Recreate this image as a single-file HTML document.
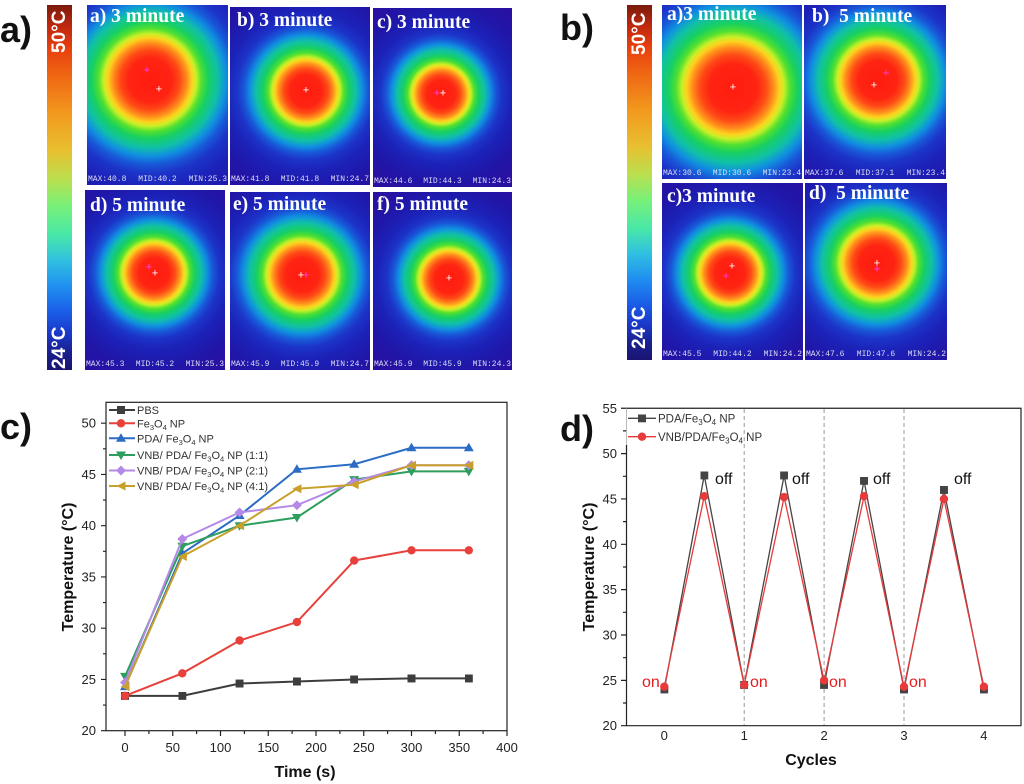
<!DOCTYPE html>
<html><head><meta charset="utf-8">
<style>
html,body{margin:0;padding:0;background:#fff;}
body{width:1024px;height:784px;position:relative;overflow:hidden;font-family:"Liberation Sans",sans-serif;}
.lbl{position:absolute;font-weight:bold;font-size:36px;color:#111;line-height:36px;}
.cb{position:absolute;background:linear-gradient(to bottom,#7a1a0c 0%,#c0280e 6%,#e8400e 12%,#f06a14 20%,#f29a1e 30%,#e8c030 40%,#b8e050 48%,#78f078 55%,#48e8a8 63%,#30c0e0 70%,#2090f0 77%,#1a5ee8 84%,#1a38c8 90%,#1a2090 95%,#1a1470 100%);}
.cbt{position:absolute;left:50%;color:#fff;font-weight:bold;font-size:19px;white-space:nowrap;transform-origin:0 0;}
.th{position:absolute;overflow:hidden;
background:radial-gradient(circle at var(--x) var(--y),#ff1c10 0,#ff2412 calc(16px*var(--s)),#ff4a16 calc(22px*var(--s)),#ff8c1c calc(27px*var(--s)),#ffd21e calc(31px*var(--s)),#c8f028 calc(34px*var(--s)),#50e030 calc(38px*var(--s)),#18d060 calc(43px*var(--s)),#10c0a8 calc(50px*var(--s)),#1090e0 calc(56px*var(--s)),#1858d8 calc(62px*var(--s)),#1c34c8 calc(69px*var(--s)),#1c22b8 calc(80px*var(--s)),#2016a8 calc(100px*var(--s)),#2a10a0 calc(125px*var(--s)),#30109a calc(160px*var(--s)));}
.tt{position:absolute;color:#fff;font-family:"Liberation Serif",serif;font-weight:bold;font-size:19.5px;line-height:19px;white-space:pre;}
.bt{position:absolute;left:1px;right:1px;bottom:1px;display:flex;justify-content:space-between;font-family:"Liberation Mono",monospace;font-size:8px;line-height:8px;color:#dcdcf4;}
.ch{position:absolute;font-size:11px;line-height:11px;color:#fff;transform:translate(-50%,-50%);}
.chm{color:#ff40ff;}
</style></head><body>

<div class="lbl" style="left:0;top:12px;">a)</div>
<div class="lbl" style="left:560px;top:10px;">b)</div>
<div class="lbl" style="left:0;top:409px;">c)</div>
<div class="lbl" style="left:560px;top:411px;">d)</div>

<!-- colorbars -->
<div class="cb" style="left:47px;top:5px;width:25px;height:365px;">
  <div class="cbt" style="top:48px;transform:rotate(-90deg) translate(0,-11px);">50°C</div>
  <div class="cbt" style="top:364px;transform:rotate(-90deg) translate(0,-11px);">24°C</div>
</div>
<div class="cb" style="left:627px;top:5px;width:25px;height:355px;">
  <div class="cbt" style="top:50px;transform:rotate(-90deg) translate(0,-11px);">50°C</div>
  <div class="cbt" style="top:344px;transform:rotate(-90deg) translate(0,-11px);">24°C</div>
</div>

<!-- panel a images -->
<div class="th" style="left:87px;top:5px;width:141px;height:180px;--x:63px;--y:75px;--s:1.36;">
  <div class="tt" style="left:3px;top:2px;">a) 3 minute</div>
  <div class="ch chm" style="left:60px;top:66px;">+</div><div class="ch" style="left:72px;top:85px;">+</div>
  <div class="bt"><span>MAX:40.8</span><span>MID:40.2</span><span>MIN:25.3</span></div>
</div>
<div class="th" style="left:230px;top:7px;width:140px;height:178px;--x:76px;--y:84px;--s:1;">
  <div class="tt" style="left:7px;top:4px;">b) 3 minute</div>
  <div class="ch" style="left:76px;top:84px;">+</div>
  <div class="bt"><span>MAX:41.8</span><span>MID:41.8</span><span>MIN:24.7</span></div>
</div>
<div class="th" style="left:373px;top:8px;width:139px;height:179px;--x:68px;--y:86px;--s:0.88;">
  <div class="tt" style="left:4px;top:5px;">c) 3 minute</div>
  <div class="ch chm" style="left:64px;top:86px;">+</div><div class="ch" style="left:70px;top:86px;">+</div>
  <div class="bt"><span>MAX:44.6</span><span>MID:44.3</span><span>MIN:24.3</span></div>
</div>
<div class="th" style="left:85px;top:190px;width:140px;height:180px;--x:69px;--y:83px;--s:0.95;">
  <div class="tt" style="left:5px;top:6px;">d) 5 minute</div>
  <div class="ch chm" style="left:64px;top:78px;">+</div><div class="ch" style="left:70px;top:84px;">+</div>
  <div class="bt"><span>MAX:45.3</span><span>MID:45.2</span><span>MIN:25.3</span></div>
</div>
<div class="th" style="left:230px;top:192px;width:140px;height:178px;--x:72px;--y:83px;--s:1.05;">
  <div class="tt" style="left:3px;top:3px;">e) 5 minute</div>
  <div class="ch" style="left:71px;top:84px;">+</div><div class="ch chm" style="left:76px;top:84px;">+</div>
  <div class="bt"><span>MAX:45.9</span><span>MID:45.9</span><span>MIN:24.7</span></div>
</div>
<div class="th" style="left:373px;top:192px;width:139px;height:178px;--x:76px;--y:87px;--s:0.9;">
  <div class="tt" style="left:4px;top:3px;">f) 5 minute</div>
  <div class="ch" style="left:76px;top:87px;">+</div>
  <div class="bt"><span>MAX:45.9</span><span>MID:45.9</span><span>MIN:24.3</span></div>
</div>

<!-- panel b images -->
<div class="th" style="left:662px;top:5px;width:140px;height:174px;--x:71px;--y:83px;--s:1.5;">
  <div class="tt" style="left:5px;top:0px;">a)3 minute</div>
  <div class="ch" style="left:71px;top:83px;">+</div>
  <div class="bt"><span>MAX:30.6</span><span>MID:30.6</span><span>MIN:23.4</span></div>
</div>
<div class="th" style="left:804px;top:5px;width:142px;height:174px;--x:74px;--y:75px;--s:1.2;">
  <div class="tt" style="left:8px;top:2px;">b)  5 minute</div>
  <div class="ch chm" style="left:82px;top:69px;">+</div><div class="ch" style="left:70px;top:81px;">+</div>
  <div class="bt"><span>MAX:37.6</span><span>MID:37.1</span><span>MIN:23.4</span></div>
</div>
<div class="th" style="left:662px;top:183px;width:141px;height:177px;--x:68px;--y:90px;--s:0.95;">
  <div class="tt" style="left:5px;top:4px;">c)3 minute</div>
  <div class="ch" style="left:70px;top:84px;">+</div><div class="ch chm" style="left:64px;top:94px;">+</div>
  <div class="bt"><span>MAX:45.5</span><span>MID:44.2</span><span>MIN:24.2</span></div>
</div>
<div class="th" style="left:805px;top:183px;width:142px;height:177px;--x:72px;--y:80px;--s:1.1;">
  <div class="tt" style="left:4px;top:1px;">d)  5 minute</div>
  <div class="ch" style="left:72px;top:81px;">+</div><div class="ch chm" style="left:72px;top:87px;">+</div>
  <div class="bt"><span>MAX:47.6</span><span>MID:47.6</span><span>MIN:24.2</span></div>
</div>

<svg width="1024" height="784" style="position:absolute;left:0;top:0;" xmlns="http://www.w3.org/2000/svg" font-family="Liberation Sans, sans-serif">
<defs>
 <marker id="mSq" markerWidth="8" markerHeight="8" refX="4" refY="4" markerUnits="userSpaceOnUse"><rect width="8" height="8" fill="#3d3d3d"/></marker>
 <marker id="mCi" markerWidth="9" markerHeight="9" refX="4.5" refY="4.5" markerUnits="userSpaceOnUse"><circle cx="4.5" cy="4.5" r="4.2" fill="#e8403a"/></marker>
 <marker id="mUp" markerWidth="10" markerHeight="10" refX="5" refY="5.5" markerUnits="userSpaceOnUse"><path d="M0,9 L5,0.5 L10,9 Z" fill="#2b6cc4"/></marker>
 <marker id="mDn" markerWidth="10" markerHeight="10" refX="5" refY="4.5" markerUnits="userSpaceOnUse"><path d="M0,1 L10,1 L5,9.5 Z" fill="#2e9e5e"/></marker>
 <marker id="mDi" markerWidth="10" markerHeight="10" refX="5" refY="5" markerUnits="userSpaceOnUse"><path d="M5,0 L10,5 L5,10 L0,5 Z" fill="#b58ae6"/></marker>
 <marker id="mLe" markerWidth="10" markerHeight="10" refX="5" refY="5" markerUnits="userSpaceOnUse"><path d="M0.5,5 L9.5,0.5 L9.5,9.5 Z" fill="#c8a02a"/></marker>
 <marker id="dSq" markerWidth="8" markerHeight="8" refX="4" refY="4" markerUnits="userSpaceOnUse"><rect width="8" height="8" fill="#444"/></marker>
 <marker id="dCi" markerWidth="9" markerHeight="9" refX="4.5" refY="4.5" markerUnits="userSpaceOnUse"><circle cx="4.5" cy="4.5" r="4.2" fill="#e83a3a"/></marker>
</defs>

<!-- ===== Chart c ===== -->
<g stroke="#222" stroke-width="1.2" fill="none">
 <rect x="106" y="402.3" width="401" height="328.4"/>
 <path d="M101,730.7H106M101,679.45H106M101,628.2H106M101,576.95H106M101,525.7H106M101,474.45H106M101,423.2H106
 M103,705.08H106M103,653.83H106M103,602.58H106M103,551.33H106M103,500.08H106M103,448.83H106
 M125,730.7V736M172.75,730.7V736M220.5,730.7V736M268.25,730.7V736M316,730.7V736M363.75,730.7V736M411.5,730.7V736M459.25,730.7V736M507,730.7V736
 M148.9,730.7V734M196.6,730.7V734M244.4,730.7V734M292.1,730.7V734M339.9,730.7V734M387.6,730.7V734M435.4,730.7V734M483.1,730.7V734"/>
</g>
<g font-size="13" fill="#222" text-anchor="end">
 <text x="96" y="735.2">20</text><text x="96" y="684">25</text><text x="96" y="632.7">30</text><text x="96" y="581.5">35</text><text x="96" y="530.2">40</text><text x="96" y="479">45</text><text x="96" y="427.7">50</text>
</g>
<g font-size="13" fill="#222" text-anchor="middle">
 <text x="125" y="752">0</text><text x="172.75" y="752">50</text><text x="220.5" y="752">100</text><text x="268.25" y="752">150</text><text x="316" y="752">200</text><text x="363.75" y="752">250</text><text x="411.5" y="752">300</text><text x="459.25" y="752">350</text><text x="507" y="752">400</text>
</g>
<text x="305" y="777" font-size="16" font-weight="bold" text-anchor="middle" fill="#111">Time (s)</text>
<text transform="translate(73,567) rotate(-90)" font-size="16" font-weight="bold" text-anchor="middle" fill="#111">Temperature (°C)</text>

<g fill="none" stroke-width="2">
 <polyline stroke="#3d3d3d" marker-start="url(#mSq)" marker-mid="url(#mSq)" marker-end="url(#mSq)" points="125,695.85 182.3,695.85 239.6,683.55 296.9,681.5 354.2,679.45 411.5,678.43 468.8,678.43"/>
 <polyline stroke="#e8403a" marker-start="url(#mCi)" marker-mid="url(#mCi)" marker-end="url(#mCi)" points="125,695.85 182.3,673.3 239.6,640.5 296.9,622.05 354.2,560.55 411.5,550.3 468.8,550.3"/>
 <polyline stroke="#2b6cc4" marker-start="url(#mUp)" marker-mid="url(#mUp)" marker-end="url(#mUp)" points="125,686.6 182.3,553.4 239.6,515.45 296.9,469.3 354.2,464.2 411.5,447.8 468.8,447.8"/>
 <polyline stroke="#2e9e5e" marker-start="url(#mDn)" marker-mid="url(#mDn)" marker-end="url(#mDn)" points="125,676.4 182.3,546.2 239.6,525.7 296.9,517.5 354.2,479.6 411.5,471.4 468.8,471.4"/>
 <polyline stroke="#b58ae6" marker-start="url(#mDi)" marker-mid="url(#mDi)" marker-end="url(#mDi)" points="125,682.5 182.3,539 239.6,512.4 296.9,505.2 354.2,481.6 411.5,465.2 468.8,465.2"/>
 <polyline stroke="#c8a02a" marker-start="url(#mLe)" marker-mid="url(#mLe)" marker-end="url(#mLe)" points="125,686.6 182.3,556.45 239.6,525.7 296.9,488.8 354.2,484.7 411.5,465.2 468.8,465.2"/>
</g>
<!-- legend c -->
<g fill="none" stroke-width="2">
 <polyline stroke="#3d3d3d" marker-mid="url(#mSq)" points="109,410 121,410 135,410"/>
 <polyline stroke="#e8403a" marker-mid="url(#mCi)" points="109,423.3 121,423.3 135,423.3"/>
 <polyline stroke="#2b6cc4" marker-mid="url(#mUp)" points="109,438.3 121,438.3 135,438.3"/>
 <polyline stroke="#2e9e5e" marker-mid="url(#mDn)" points="109,455 121,455 135,455"/>
 <polyline stroke="#b58ae6" marker-mid="url(#mDi)" points="109,470.5 121,470.5 135,470.5"/>
 <polyline stroke="#c8a02a" marker-mid="url(#mLe)" points="109,486 121,486 135,486"/>
</g>
<g font-size="11" fill="#333">
 <text x="137" y="414">PBS</text>
 <text x="137" y="427.3">Fe<tspan font-size="7.5" dy="2.5">3</tspan><tspan dy="-2.5">O</tspan><tspan font-size="7.5" dy="2.5">4</tspan><tspan dy="-2.5"> NP</tspan></text>
 <text x="137" y="442.3">PDA/ Fe<tspan font-size="7.5" dy="2.5">3</tspan><tspan dy="-2.5">O</tspan><tspan font-size="7.5" dy="2.5">4</tspan><tspan dy="-2.5"> NP</tspan></text>
 <text x="137" y="459">VNB/ PDA/ Fe<tspan font-size="7.5" dy="2.5">3</tspan><tspan dy="-2.5">O</tspan><tspan font-size="7.5" dy="2.5">4</tspan><tspan dy="-2.5"> NP (1:1)</tspan></text>
 <text x="137" y="474.5">VNB/ PDA/ Fe<tspan font-size="7.5" dy="2.5">3</tspan><tspan dy="-2.5">O</tspan><tspan font-size="7.5" dy="2.5">4</tspan><tspan dy="-2.5"> NP (2:1)</tspan></text>
 <text x="137" y="490">VNB/ PDA/ Fe<tspan font-size="7.5" dy="2.5">3</tspan><tspan dy="-2.5">O</tspan><tspan font-size="7.5" dy="2.5">4</tspan><tspan dy="-2.5"> NP (4:1)</tspan></text>
</g>

<!-- ===== Chart d ===== -->
<g stroke="#999" stroke-width="1" stroke-dasharray="4,3">
 <line x1="744.2" y1="409" x2="744.2" y2="725"/>
 <line x1="824.1" y1="409" x2="824.1" y2="725"/>
 <line x1="904" y1="409" x2="904" y2="725"/>
</g>
<g stroke="#222" stroke-width="1.2" fill="none">
 <path d="M626.5,408.25H1021V725.7H626.5V445"/>
 <path d="M621,725.7H626.5M621,680.35H626.5M621,635H626.5M621,589.65H626.5M621,544.3H626.5M621,498.95H626.5M621,453.6H626.5M621,408.25H626.5
 M623,703H626.5M623,657.7H626.5M623,612.3H626.5M623,567H626.5M623,521.6H626.5M623,476.3H626.5M623,430.9H626.5"/>
</g>
<line x1="626.5" y1="408.25" x2="626.5" y2="445" stroke="#aaa" stroke-width="0.8"/>
<g font-size="13" fill="#222" text-anchor="end">
 <text x="617" y="730.2">20</text><text x="617" y="684.9">25</text><text x="617" y="639.5">30</text><text x="617" y="594.2">35</text><text x="617" y="548.8">40</text><text x="617" y="503.5">45</text><text x="617" y="458.1">50</text><text x="617" y="412.8">55</text>
</g>
<g font-size="13" fill="#222" text-anchor="middle">
 <text x="664.3" y="740">0</text><text x="744.2" y="740">1</text><text x="824.1" y="740">2</text><text x="904" y="740">3</text><text x="983.9" y="740">4</text>
</g>
<text x="811" y="765" font-size="16" font-weight="bold" text-anchor="middle" fill="#111">Cycles</text>
<text transform="translate(594,567) rotate(-90)" font-size="16" font-weight="bold" text-anchor="middle" fill="#111">Temperature (°C)</text>

<g fill="none" stroke-width="1.3">
 <polyline stroke="#444" marker-start="url(#dSq)" marker-mid="url(#dSq)" marker-end="url(#dSq)" points="664.3,689.4 704.25,475.4 744.2,684.9 784.15,475.4 824.1,684.9 864.05,480.8 904,689.4 943.95,489.9 983.9,689.4"/>
 <polyline stroke="#e83a3a" marker-start="url(#dCi)" marker-mid="url(#dCi)" marker-end="url(#dCi)" points="664.3,686.7 704.25,496.2 744.2,684.9 784.15,497.1 824.1,680.35 864.05,496.2 904,686.7 943.95,499 983.9,686.7"/>
</g>
<g font-size="16" fill="#111">
 <text x="715" y="484">off</text><text x="792" y="484">off</text><text x="873" y="484">off</text><text x="954" y="484">off</text>
</g>
<g font-size="16" fill="#e02020">
 <text x="642" y="687">on</text><text x="750" y="687">on</text><text x="829" y="687">on</text><text x="909" y="687">on</text>
</g>
<!-- legend d -->
<g fill="none" stroke-width="1.3">
 <polyline stroke="#444" marker-mid="url(#dSq)" points="628,418.3 642,418.3 656,418.3"/>
 <polyline stroke="#e83a3a" marker-mid="url(#dCi)" points="628,436.7 642,436.7 656,436.7"/>
</g>
<g font-size="11.5" fill="#333">
 <text x="658" y="422.5">PDA/Fe<tspan font-size="8" dy="2.5">3</tspan><tspan dy="-2.5">O</tspan><tspan font-size="8" dy="2.5">4</tspan><tspan dy="-2.5"> NP</tspan></text>
 <text x="658" y="440.9">VNB/PDA/Fe<tspan font-size="8" dy="2.5">3</tspan><tspan dy="-2.5">O</tspan><tspan font-size="8" dy="2.5">4</tspan><tspan dy="-2.5"> NP</tspan></text>
</g>
</svg>
</body></html>
